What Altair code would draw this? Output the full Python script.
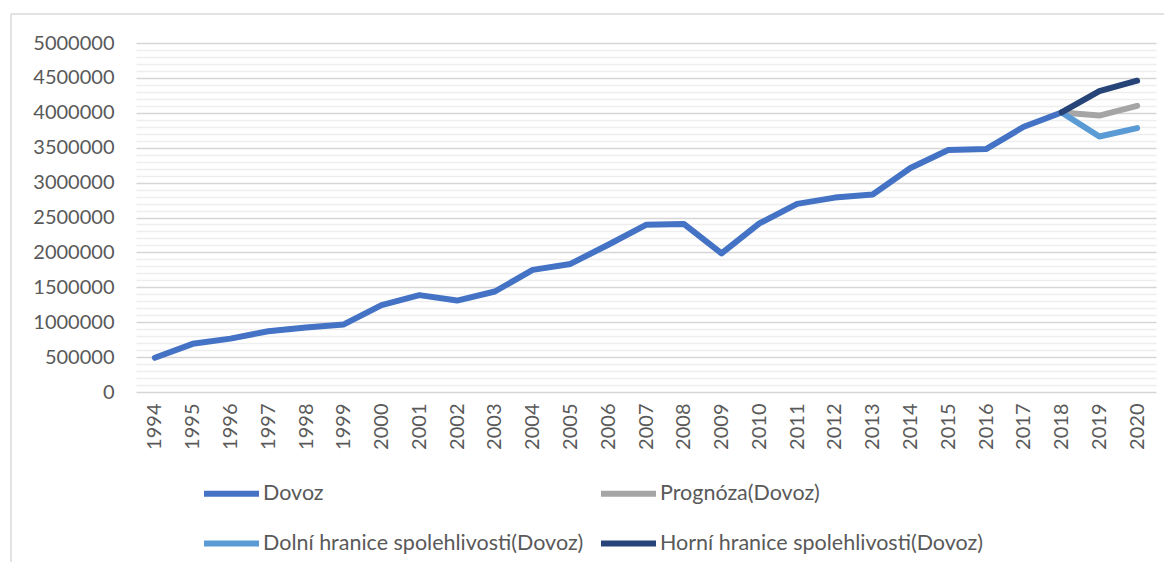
import altair as alt
import pandas as pd

years = [1994, 1995, 1996, 1997, 1998, 1999, 2000, 2001, 2002, 2003, 2004, 2005, 2006,
         2007, 2008, 2009, 2010, 2011, 2012, 2013, 2014, 2015, 2016, 2017, 2018]
dovoz = [490000, 690000, 765000, 870000, 925000, 968000, 1245000, 1388000, 1310000,
         1440000, 1750000, 1835000, 2110000, 2395000, 2408000, 1985000, 2415000,
         2695000, 2785000, 2830000, 3210000, 3468000, 3480000, 3800000, 4005000]
fc_years = [2018, 2019, 2020]
prognoza = [4005000, 3960000, 4100000]
dolni = [4005000, 3660000, 3780000]
horni = [4005000, 4310000, 4460000]

series_names = ["Dovoz", "Prognóza(Dovoz)", "Dolní hranice spolehlivosti(Dovoz)",
                "Horní hranice spolehlivosti(Dovoz)"]
series_colors = ["#4472C4", "#A5A5A5", "#5B9BD5", "#264478"]
year_labels = [str(y) for y in range(1994, 2021)]
grid_values = list(range(0, 5000001, 100000))

rows = []
for y, v in zip(years, dovoz):
    rows.append({"rok": str(y), "hodnota": v, "serie": series_names[0]})
for name, vals in zip(series_names[1:], [prognoza, dolni, horni]):
    for y, v in zip(fc_years, vals):
        rows.append({"rok": str(y), "hodnota": v, "serie": name})
df = pd.DataFrame(rows)

FONT = "Lato"
TXT = "#595959"
W, H = 1020, 349

lines = alt.Chart(df).mark_line(strokeWidth=6, strokeCap="round", strokeJoin="round").encode(
    x=alt.X("rok:O", sort=year_labels,
            scale=alt.Scale(type="point", domain=year_labels, padding=0.5),
            axis=alt.Axis(title=None, labelAngle=270, labelAlign="right", labelBaseline="middle",
                          labelPadding=11, ticks=False, domain=False, grid=False,
                          labelFont=FONT, labelFontSize=20, labelColor=TXT)),
    y=alt.Y("hodnota:Q", scale=alt.Scale(domain=[0, 5000000], nice=False),
            axis=alt.Axis(title=None, values=grid_values, format="d",
                          labelExpr="datum.value % 500000 === 0 ? datum.label : ''",
                          labelOverlap=False, ticks=False, domain=False,
                          labelPadding=22, labelFont=FONT, labelFontSize=20, labelColor=TXT,
                          gridColor={"condition": {"test": "datum.value % 500000 === 0",
                                                   "value": "#d6d6d6"},
                                     "value": "#eeeeee"},
                          gridWidth=1.6)),
    color=alt.Color("serie:N", sort=series_names,
                    scale=alt.Scale(domain=series_names, range=series_colors),
                    legend=alt.Legend(title=None, orient="none", legendX=65, legendY=420,
                                      direction="horizontal",
                                      columns=2, symbolType="stroke", symbolSize=3025,
                                      symbolStrokeWidth=6, labelFont=FONT, labelFontSize=21.5,
                                      labelColor=TXT, labelOffset=1, columnPadding=5,
                                      rowPadding=7, padding=0, labelLimit=500)),
    order=alt.Order("rok:O"),
)

frame = pd.DataFrame({"k": [0]})
top_border = alt.Chart(frame).mark_rule(color="#d9d9d9", strokeWidth=1.5).encode(
    x=alt.value(-125), x2=alt.value(1040), y=alt.value(-29))
left_border = alt.Chart(frame).mark_rule(color="#d9d9d9", strokeWidth=1.5).encode(
    x=alt.value(-125), y=alt.value(-29), y2=alt.value(530))

chart = alt.layer(top_border, left_border, lines).properties(
    width=W, height=H,
    autosize=alt.AutoSizeParams(type="none"),
    padding={"left": 128, "top": 35, "right": 8, "bottom": 170},
).configure_view(stroke=None)

chart.save("out.html", embed_options={"renderer": "svg", "actions": False})
